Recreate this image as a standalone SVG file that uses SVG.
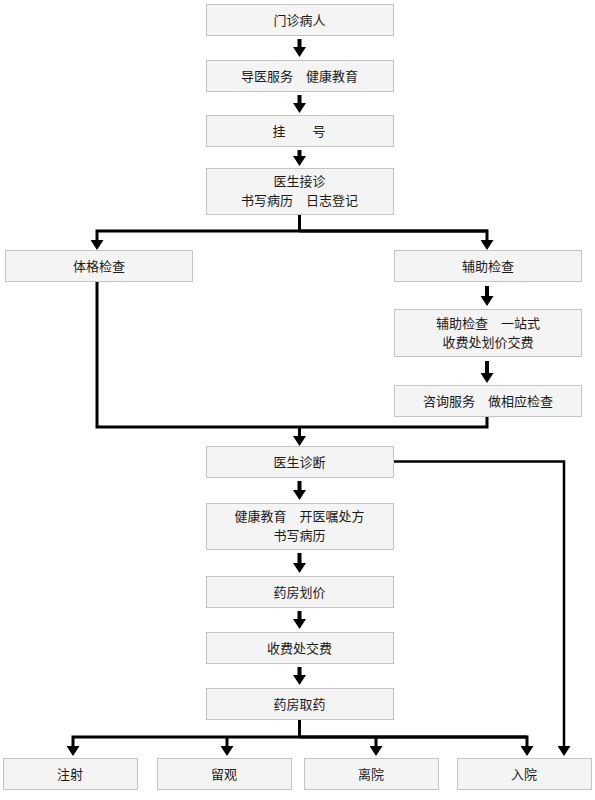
<svg xmlns="http://www.w3.org/2000/svg" width="595" height="800" viewBox="0 0 595 800">
<style>
.box{fill:#f4f4f4;stroke:#c4c4c4;stroke-width:1}
.t{font-family:"Noto Sans CJK SC","Noto Sans",sans-serif;font-size:13px;fill:#1a1a1a;text-anchor:middle}
.s{fill:none;stroke:#000;stroke-width:4;marker-end:url(#ah)}
.e{fill:none;stroke:#000;stroke-width:3}
.ea{fill:none;stroke:#000;stroke-width:3;marker-end:url(#ah)}
.r{fill:none;stroke:#000;stroke-width:2.5;marker-end:url(#ah)}
</style>
<defs>
<marker id="ah" markerUnits="userSpaceOnUse" markerWidth="10" markerHeight="13" refX="0" refY="6.5" orient="auto" viewBox="0 0 10 13">
<path d="M0,0 L10,6.5 L0,13 z" fill="#000"/>
</marker>
</defs>
<rect width="595" height="800" fill="#fff"/>
<g id="connectors">
<path class="s" d="M299.5,39 V47"/>
<path class="s" d="M299.5,95 V103"/>
<path class="s" d="M299.5,150 V156"/>
<path class="e" d="M299.5,214 V231"/>
<path class="ea" d="M488,231 H97 V240"/>
<path class="ea" d="M299.5,231 H487 V240"/>
<path class="s" d="M487,286 V296"/>
<path class="s" d="M487,361 V373"/>
<path class="e" d="M97,282 V427 H487 V416"/>
<path class="ea" d="M299.5,427 V436"/>
<path class="s" d="M299.5,481 V490"/>
<path class="s" d="M299.5,553 V563"/>
<path class="s" d="M299.5,611 V619"/>
<path class="s" d="M299.5,667 V675"/>
<path class="e" d="M299.5,719 V737"/>
<path class="ea" d="M527,737 H73 V746"/>
<path class="ea" d="M227,737 V746"/>
<path class="ea" d="M376,737 V746"/>
<path class="ea" d="M299.5,737 H527 V746"/>
<path class="r" d="M393,461.5 H564 V746"/>
</g>
<g id="n1"><rect class="box" x="206.5" y="4.5" width="187" height="31"/><text class="t" x="299.5" y="24.5">门诊病人</text></g>
<g id="n2"><rect class="box" x="206.5" y="60.5" width="187" height="31"/><text class="t" x="299.5" y="80.5">导医服务　健康教育</text></g>
<g id="n3"><rect class="box" x="206.5" y="115.5" width="187" height="31"/><text class="t" y="135.5"><tspan x="279">挂</tspan><tspan x="319">号</tspan></text></g>
<g id="n4"><rect class="box" x="206.5" y="168.5" width="187" height="46"/><text class="t" x="299.5" y="186">医生接诊</text><text class="t" x="299.5" y="204.5">书写病历　日志登记</text></g>
<g id="n5"><rect class="box" x="5.5" y="250.5" width="187" height="31"/><text class="t" x="99" y="270.5">体格检查</text></g>
<g id="n6"><rect class="box" x="394.5" y="250.5" width="187" height="31"/><text class="t" x="488" y="270.5">辅助检查</text></g>
<g id="n7"><rect class="box" x="394.5" y="309.5" width="187" height="47"/><text class="t" x="488" y="328">辅助检查　一站式</text><text class="t" x="488" y="346.5">收费处划价交费</text></g>
<g id="n8"><rect class="box" x="394.5" y="385.5" width="187" height="31"/><text class="t" x="488" y="405.5">咨询服务　做相应检查</text></g>
<g id="n9"><rect class="box" x="206.5" y="446.5" width="187" height="31"/><text class="t" x="299.5" y="466.5">医生诊断</text></g>
<g id="n10"><rect class="box" x="206.5" y="503.5" width="187" height="46"/><text class="t" x="299.5" y="521">健康教育　开医嘱处方</text><text class="t" x="299.5" y="539.5">书写病历</text></g>
<g id="n11"><rect class="box" x="206.5" y="576.5" width="187" height="31"/><text class="t" x="299.5" y="596.5">药房划价</text></g>
<g id="n12"><rect class="box" x="206.5" y="632.5" width="187" height="31"/><text class="t" x="299.5" y="652.5">收费处交费</text></g>
<g id="n13"><rect class="box" x="206.5" y="688.5" width="187" height="31"/><text class="t" x="299.5" y="708.5">药房取药</text></g>
<g id="n14"><rect class="box" x="3.5" y="758.5" width="134" height="31"/><text class="t" x="70" y="778.5">注射</text></g>
<g id="n15"><rect class="box" x="157.5" y="758.5" width="134" height="31"/><text class="t" x="224" y="778.5">留观</text></g>
<g id="n16"><rect class="box" x="304.5" y="758.5" width="134" height="31"/><text class="t" x="371" y="778.5">离院</text></g>
<g id="n17"><rect class="box" x="457.5" y="758.5" width="134" height="31"/><text class="t" x="524" y="778.5">入院</text></g>
</svg>
